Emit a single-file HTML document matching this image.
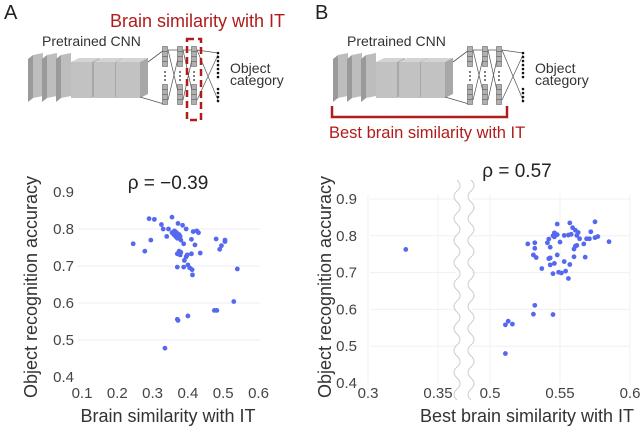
<!DOCTYPE html>
<html><head><meta charset="utf-8"><style>
body{margin:0;background:#fff;}
svg{display:block;font-family:"Liberation Sans",Arial,sans-serif;}
</style></head><body>
<svg id="root" width="640" height="430" viewBox="0 0 640 430">
<g id="diagA"></g>
<g id="diagB" transform="translate(305,0)"></g>
<text x="4" y="19" font-size="20" fill="#222">A</text>
<text x="315" y="19" font-size="20" fill="#222">B</text>
<text x="110" y="27" font-size="18" fill="#b01c1c">Brain similarity with IT</text>
<rect x="187" y="39" width="14" height="81" fill="none" stroke="#b01c1c" stroke-width="2.5" stroke-dasharray="7,4"/>
<path d="M332 106 V117 H507 V106" fill="none" stroke="#b01c1c" stroke-width="2.5"/>
<text x="329" y="138" font-size="16.5" fill="#b01c1c">Best brain similarity with IT</text>
<g id="chartA"></g>
<g id="chartB"></g>
</svg>
<script>
// ---- data: chart A ----
const xTicksA = [0.1,0.2,0.3,0.4,0.5,0.6];
const yTicks = [0.4,0.5,0.6,0.7,0.8,0.9];
const simA = [0.245,0.278,0.29,0.295,0.305,0.325,0.33,0.34,0.345,0.355,0.355,0.36,0.362,0.365,0.368,0.37,0.372,0.375,0.378,0.38,0.385,0.388,0.395,0.37,0.375,0.378,0.38,0.39,0.395,0.398,0.37,0.388,0.4,0.405,0.41,0.41,0.412,0.413,0.415,0.42,0.425,0.43,0.435,0.48,0.49,0.495,0.505,0.505,0.54,0.53,0.475,0.482,0.4,0.37,0.372,0.335];
const accA = [0.76,0.74,0.828,0.77,0.826,0.812,0.80,0.78,0.80,0.832,0.79,0.785,0.795,0.78,0.79,0.775,0.815,0.785,0.78,0.77,0.81,0.76,0.80,0.733,0.74,0.73,0.737,0.715,0.725,0.73,0.697,0.697,0.703,0.695,0.733,0.772,0.69,0.676,0.793,0.757,0.795,0.79,0.735,0.773,0.745,0.755,0.77,0.766,0.692,0.604,0.58,0.58,0.565,0.556,0.553,0.478];
// ---- data: chart B ----
const xTicksB = [0.3,0.35,0.5,0.55,0.6];
const simB = [0.327,0.511,0.511,0.513,0.516,0.532,0.531,0.545,0.527,0.532,0.532,0.531,0.533,0.537,0.541,0.542,0.542,0.543,0.543,0.543,0.545,0.545,0.546,0.546,0.546,0.548,0.548,0.548,0.549,0.55,0.551,0.553,0.553,0.554,0.556,0.556,0.557,0.557,0.558,0.559,0.56,0.56,0.561,0.561,0.562,0.562,0.563,0.564,0.567,0.568,0.569,0.571,0.572,0.575,0.575,0.577,0.585];
const accB = [0.763,0.48,0.558,0.568,0.56,0.611,0.587,0.586,0.778,0.766,0.781,0.748,0.741,0.711,0.781,0.791,0.738,0.74,0.769,0.721,0.8,0.697,0.797,0.808,0.725,0.803,0.748,0.832,0.701,0.783,0.699,0.73,0.801,0.704,0.684,0.802,0.835,0.722,0.804,0.822,0.764,0.743,0.772,0.815,0.801,0.774,0.809,0.792,0.778,0.742,0.792,0.792,0.811,0.838,0.795,0.798,0.784];

const NS="http://www.w3.org/2000/svg";
function mk(parent,tag,attrs,text){const e=document.createElementNS(NS,tag);for(const k in attrs)e.setAttribute(k,attrs[k]);if(text!==undefined)e.textContent=text;parent.appendChild(e);return e;}

// ---- diagrams ----
function drawDiagram(g){
  const slabs=[[28,55,12,47],[42,55,12,47],[56,55,12,47]];
  slabs.forEach((s,i)=>{
    const [x,y,w,h]=s;
    const p=mk(g,'polygon',{points:`${x},${y+4} ${x+5},${y} ${x+5},${y+h-4} ${x},${y+h}`,fill:'#9a9a9a'});
    
    const f=mk(g,'polygon',{points:`${x+5},${y} ${x+w+3},${y-2} ${x+w+3},${y+h-6} ${x+5},${y+h-4}`,fill:'#bdbdbd'});
    
  });
  const boxes=[[71,62,21,36],[94,62,21,36],[116,62,24,36]];
  boxes.forEach(b=>{
    const [x,y,w,h]=b;
    const t=mk(g,'polygon',{points:`${x},${y} ${x+8},${y-4} ${x+w+8},${y-4} ${x+w},${y}`,fill:'#d4d4d4'});
    
    const f=mk(g,'rect',{x:x,y:y,width:w,height:h,fill:'#c2c2c2'});
    
    const s=mk(g,'polygon',{points:`${x+w},${y} ${x+w+8},${y-4} ${x+w+8},${y+h-4} ${x+w},${y+h}`,fill:'#a8a8a8'});
    
  });
  const l1=mk(g,'path',{d:'M148 62 L164 50 M140 97 L164 104',stroke:'#555','stroke-width':0.8,fill:'none'});
  
  const cols=[165,180,194];
  const conn=mk(g,'path',{d:'M168 50 L180 50 M168 50 L180 100 M168 100 L180 50 M183 50 L194 50 M183 50 L194 100 M183 100 L194 50 M197 50 L218 53 M197 50 L218 100 M197 100 L218 55',stroke:'#555','stroke-width':0.7,fill:'none'});
  
  cols.forEach(cx=>{
    [49,54,59,64,87,92,97,102].forEach(yy=>{
      const r=mk(g,'rect',{x:cx-2.5,y:yy-2.5,width:5,height:5,fill:'#b0b0b0',stroke:'#666','stroke-width':0.6});
      
    });
    [72,76,80].forEach(yy=>{const d=mk(g,'circle',{cx:cx,cy:yy,r:0.9,fill:'#222'});});
  });
  [53,57,61,65,69,73,77,89,93,97,101].forEach(yy=>{const d=mk(g,'circle',{cx:218,cy:yy,r:1.3,fill:'#111'});});
  const t1=mk(g,'text',{x:42,y:46,'font-size':14,fill:'#333'},'Pretrained CNN');
  
  const t2=mk(g,'text',{x:230,y:73,'font-size':14,fill:'#333'},'Object');
  
  const t3=mk(g,'text',{x:230,y:85,'font-size':14,fill:'#333'},'category');
  
}
drawDiagram(document.getElementById('diagA'));
drawDiagram(document.getElementById('diagB'));

// ---- chart A ----
(function(){
  const g=document.getElementById('chartA');
  const xs=v=>82+(v-0.1)*353, ys=v=>192+(0.9-v)*370;
  [0.5,0.6,0.7,0.8].forEach(v=>{const l=mk(g,'line',{x1:78,x2:260,y1:ys(v),y2:ys(v),stroke:'#ececf4','stroke-width':1});});
  xTicksA.forEach(v=>{const t=mk(g,'text',{x:xs(v),y:398,'font-size':15,fill:'#444','text-anchor':'middle'},v.toFixed(1));});
  yTicks.forEach(v=>{const t=mk(g,'text',{x:74,y:ys(v)+5,'font-size':15,fill:'#444','text-anchor':'end'},v.toFixed(1));});
  simA.forEach((s,i)=>{const c=mk(g,'circle',{cx:xs(s),cy:ys(accA[i]),r:2.4,fill:'#5468f0'});});
  const ti=mk(g,'text',{x:168,y:189,'font-size':19,fill:'#222','text-anchor':'middle'},'ρ = −0.39');
  const xl=mk(g,'text',{x:168,y:422,'font-size':18,fill:'#333','text-anchor':'middle'},'Brain similarity with IT');
  const yl=mk(g,'text',{x:0,y:0,'font-size':18,fill:'#333','text-anchor':'middle',transform:'translate(37,287) rotate(-90)'},'Object recognition accuracy');
})();

// ---- chart B ----
(function(){
  const g=document.getElementById('chartB');
  const xs=v=>v<0.45?368+(v-0.3)*1400:490+(v-0.5)*1400, ys=v=>199+(0.9-v)*368;
  [0.5,0.6,0.7,0.8,0.9].forEach(v=>{const l=mk(g,'line',{x1:370,x2:630,y1:ys(v),y2:ys(v),stroke:'#f0f0f4','stroke-width':1});});
  xTicksB.forEach(v=>{const l=mk(g,'line',{x1:xs(v),x2:xs(v),y1:195,y2:383,stroke:'#f0f0f4','stroke-width':1});});
  const wb=mk(g,'rect',{x:456,y:180,width:16,height:205,fill:'#fff'});
  [457,471].forEach(x0=>{let d=`M${x0} 180`;for(let y=180;y<383;y+=22){d+=` q 6 5.5 0 11 q -6 5.5 0 11`;}const p=mk(g,'path',{d:d,fill:'none',stroke:'#ccc','stroke-width':1});});
  xTicksB.forEach(v=>{const t=mk(g,'text',{x:xs(v),y:398,'font-size':15,fill:'#444','text-anchor':'middle'},String(v));});
  yTicks.forEach(v=>{const t=mk(g,'text',{x:357,y:ys(v)+5,'font-size':15,fill:'#444','text-anchor':'end'},v.toFixed(1));});
  simB.forEach((s,i)=>{const c=mk(g,'circle',{cx:xs(s),cy:ys(accB[i]),r:2.4,fill:'#5468f0'});});
  const ti=mk(g,'text',{x:517,y:177,'font-size':19,fill:'#222','text-anchor':'middle'},'ρ = 0.57');
  const xl=mk(g,'text',{x:527,y:422,'font-size':18,fill:'#333','text-anchor':'middle'},'Best brain similarity with IT');
  const yl=mk(g,'text',{x:0,y:0,'font-size':18,fill:'#333','text-anchor':'middle',transform:'translate(331,287) rotate(-90)'},'Object recognition accuracy');
})();
</script>
</body></html>
